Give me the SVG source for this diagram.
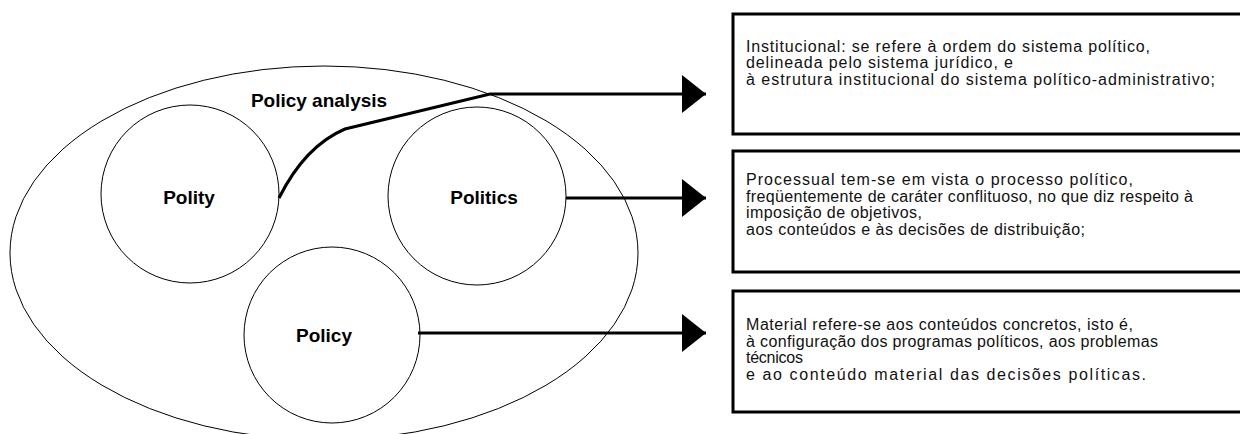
<svg xmlns="http://www.w3.org/2000/svg" width="1240" height="434" viewBox="0 0 1240 434">
  <style>
    .thin { fill: none; stroke: #000; stroke-width: 1; }
    .label { font-family: "Liberation Sans", Arial, sans-serif; font-weight: bold; font-size: 19px; fill: #000; text-anchor: middle; }
    .box { fill: #fff; stroke: #000; stroke-width: 3; }
    .desc { font-family: "Liberation Sans", Arial, sans-serif; font-size: 16px; fill: #111; }
    .conn { fill: none; stroke: #000; stroke-width: 3; }
  </style>
  <defs>
    <marker id="head" markerUnits="userSpaceOnUse" markerWidth="26" markerHeight="40" refX="24" refY="19" orient="auto">
      <path d="M0,0 L24,19 L0,38 Z" fill="#000"/>
    </marker>
  </defs>
  <rect width="1240" height="434" fill="#fff"/>

  <!-- outer field -->
  <g id="policy-analysis">
    <ellipse class="thin" cx="324" cy="253" rx="314" ry="187"/>
    <text class="label" x="319" y="107">Policy analysis</text>
  </g>

  <g id="polity">
    <circle class="thin" cx="190" cy="194" r="89"/>
    <text class="label" x="189" y="204">Polity</text>
  </g>

  <g id="politics">
    <circle class="thin" cx="477" cy="196" r="89"/>
    <text class="label" x="484" y="204">Politics</text>
  </g>

  <g id="policy">
    <circle class="thin" cx="332" cy="335" r="88"/>
    <text class="label" x="324" y="342">Policy</text>
  </g>

  <!-- connectors -->
  <g id="connectors">
    <path class="conn" d="M279,198 Q305,146 345,129 L490,94 L706,94" marker-end="url(#head)"/>
    <path class="conn" d="M566,198 L706,198" marker-end="url(#head)"/>
    <path class="conn" d="M418,333 L706,333" marker-end="url(#head)"/>
  </g>

  <!-- description boxes; each line is stretched to its set width -->
  <g id="institucional">
    <rect class="box" x="733" y="14" width="510" height="120"/>
    <text class="desc">
      <tspan x="746" y="52" textLength="404" lengthAdjust="spacing">Institucional: se refere à ordem do sistema político,</tspan>
      <tspan x="746" y="68" textLength="267" lengthAdjust="spacing">delineada pelo sistema jurídico, e</tspan>
      <tspan x="746" y="85" textLength="469" lengthAdjust="spacing">à estrutura institucional do sistema político-administrativo;</tspan>
    </text>
  </g>

  <g id="processual">
    <rect class="box" x="733" y="151" width="510" height="121"/>
    <text class="desc">
      <tspan x="746" y="185" textLength="387" lengthAdjust="spacing">Processual tem-se em vista o processo político,</tspan>
      <tspan x="746" y="202" textLength="447" lengthAdjust="spacing">freqüentemente de caráter conflituoso, no que diz respeito à</tspan>
      <tspan x="746" y="218" textLength="176" lengthAdjust="spacing">imposição de objetivos,</tspan>
      <tspan x="746" y="235" textLength="339" lengthAdjust="spacing">aos conteúdos e às decisões de distribuição;</tspan>
    </text>
  </g>

  <g id="material">
    <rect class="box" x="733" y="291" width="510" height="121"/>
    <text class="desc">
      <tspan x="746" y="330" textLength="387" lengthAdjust="spacing">Material refere-se aos conteúdos concretos, isto é,</tspan>
      <tspan x="746" y="347" textLength="412" lengthAdjust="spacing">à configuração dos programas políticos, aos problemas</tspan>
      <tspan x="746" y="363" textLength="57" lengthAdjust="spacing">técnicos</tspan>
      <tspan x="746" y="380" textLength="400" lengthAdjust="spacing">e ao conteúdo material das decisões políticas.</tspan>
    </text>
  </g>
</svg>
